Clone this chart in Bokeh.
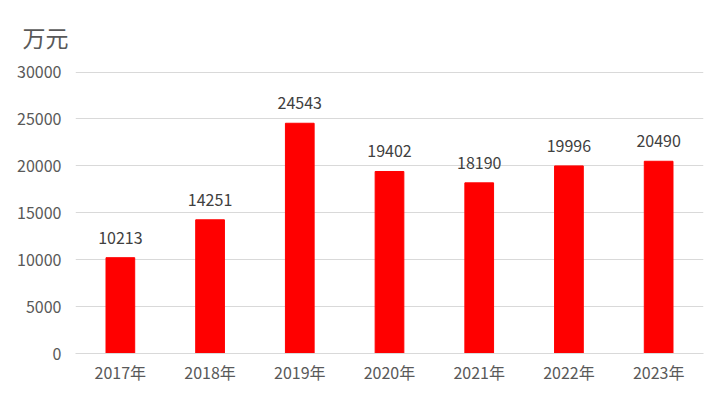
from bokeh.plotting import figure
from bokeh.models import ColumnDataSource, FixedTicker, LabelSet
from bokeh.core.properties import value
from bokeh.embed import file_html
from bokeh.resources import INLINE

years = ["2017年", "2018年", "2019年", "2020年", "2021年", "2022年", "2023年"]
values = [10213, 14251, 24543, 19402, 18190, 19996, 20490]
y_ticks = [0, 5000, 10000, 15000, 20000, 25000, 30000]
unit_label = "万元"

FONT = "Noto Sans CJK SC"
src = ColumnDataSource(dict(x=years, y=values, lbl=[str(v) for v in values]))

p = figure(x_range=years, y_range=(0, 30060), width=712, height=386,
           output_backend="svg", toolbar_location=None,
           min_border_left=75, min_border_right=9, min_border_top=71, min_border_bottom=31)

p.vbar(x="x", top="y", width=0.32, source=src, color="#ff0000")

labels = LabelSet(x="x", y="y", text="lbl", source=src, text_align="center",
                  text_baseline="bottom", y_offset=14, text_font_size="16px",
                  text_color="#404040", text_font=value(FONT))
p.add_layout(labels)

p.title.text = unit_label
p.title.text_font = FONT
p.title.text_font_size = "23px"
p.title.text_font_style = "normal"
p.title.text_color = "#595959"
p.title.align = "left"
p.title.offset = -53
p.title.standoff = 35

p.yaxis.ticker = FixedTicker(ticks=y_ticks)
p.yaxis.axis_line_color = None
p.yaxis.major_tick_line_color = None
p.yaxis.minor_tick_line_color = None
p.yaxis.major_label_standoff = 8
p.yaxis.major_label_text_font_size = "16px"
p.yaxis.major_label_text_color = "#595959"
p.yaxis.major_label_text_font = FONT

p.xaxis.axis_line_color = "#d9d9d9"
p.xaxis.major_tick_line_color = None
p.xaxis.minor_tick_line_color = None
p.xaxis.major_label_standoff = 0
p.xaxis.major_label_text_font_size = "16px"
p.xaxis.major_label_text_color = "#595959"
p.xaxis.major_label_text_font = FONT

p.xgrid.grid_line_color = None
p.ygrid.grid_line_color = "#d9d9d9"
p.outline_line_color = None
p.background_fill_color = "white"
p.border_fill_color = "white"
p.x_range.range_padding = 0

open("out.html", "w").write(file_html(p, INLINE))
